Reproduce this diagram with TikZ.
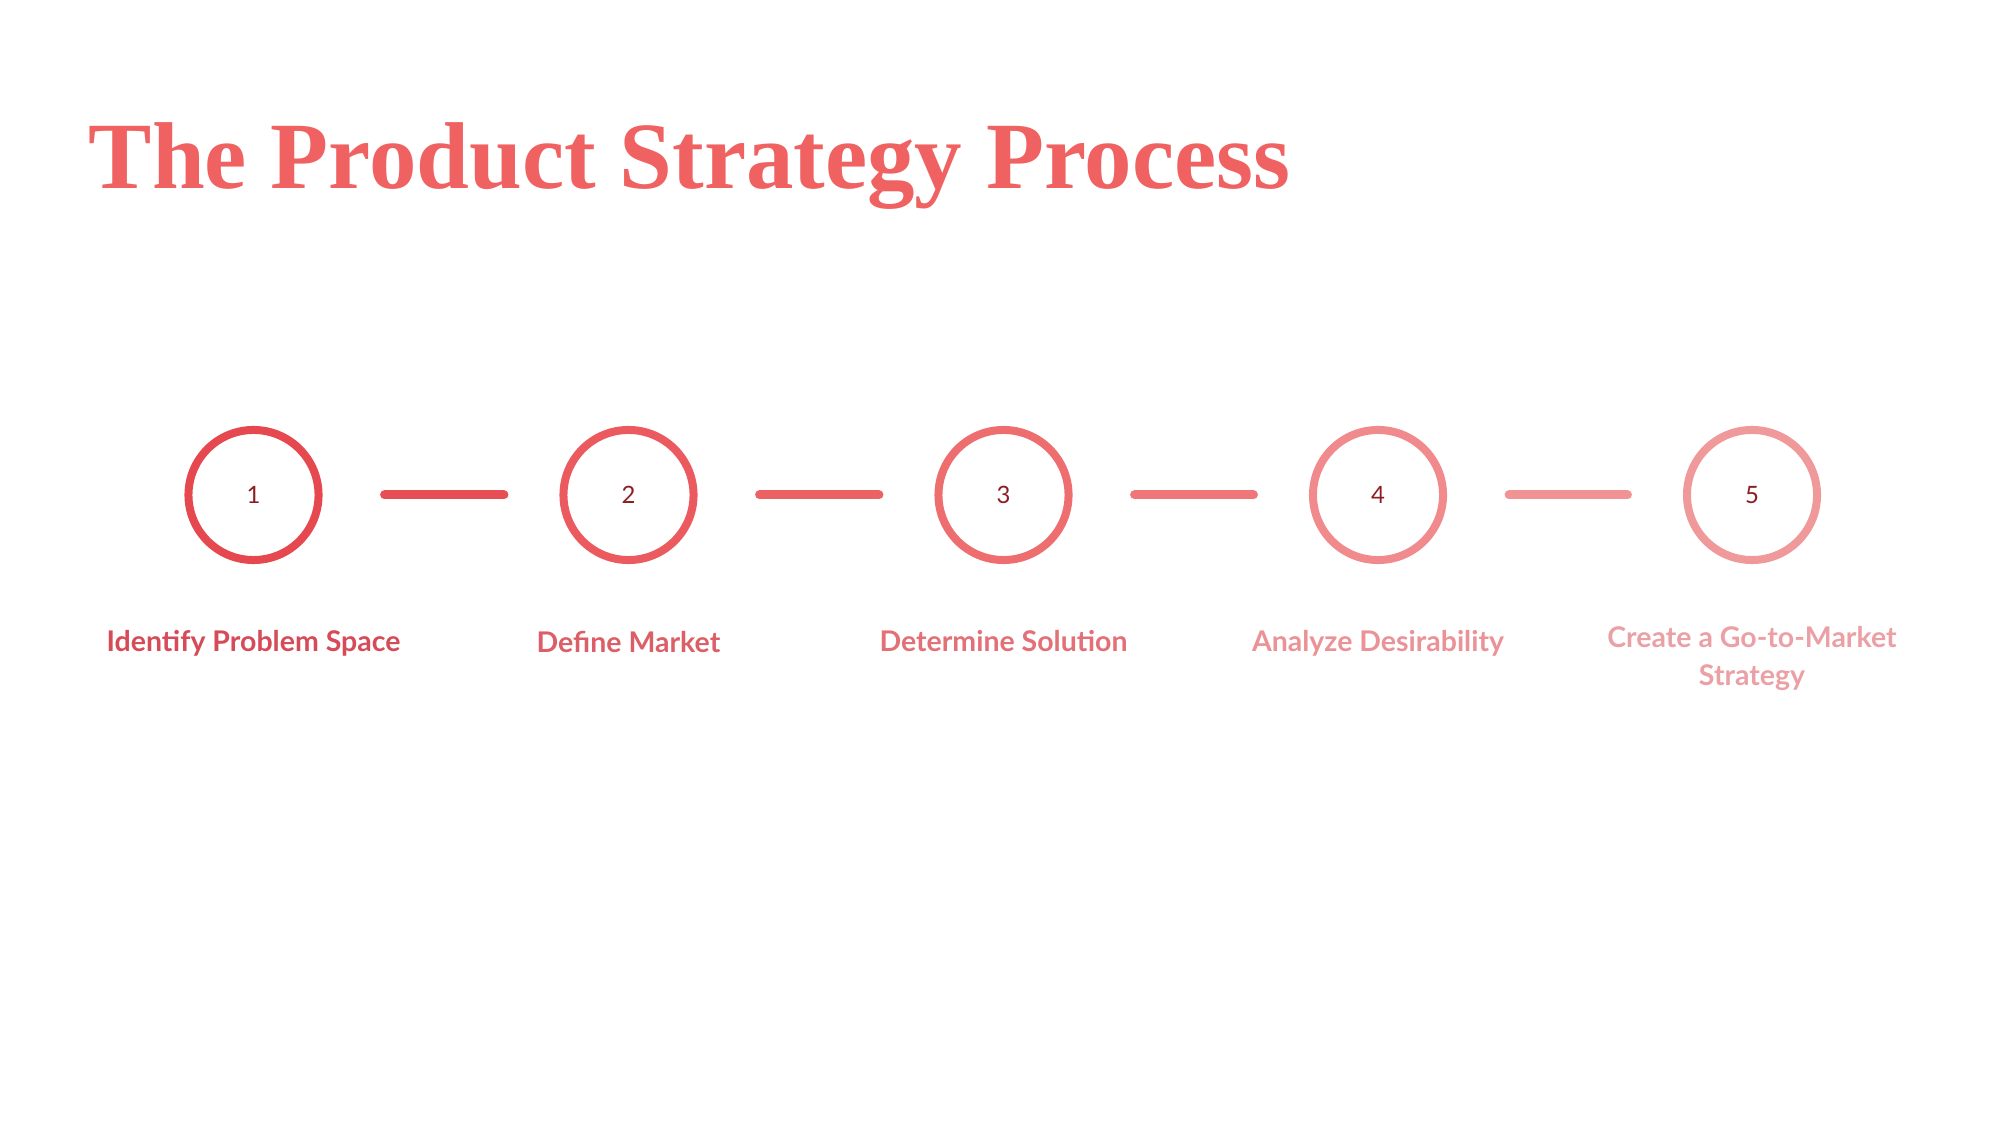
\documentclass[tikz,border=0pt]{standalone}
\usepackage{fontspec}
\setmainfont{Lato}
\newfontfamily\titlefont{Liberation Serif}
\usepackage{xcolor}
\usetikzlibrary{positioning}
\definecolor{titlered}{RGB}{240,98,98}
\definecolor{numred}{RGB}{140,30,35}
\definecolor{ringA}{RGB}{229,72,79}
\definecolor{ringB}{RGB}{235,90,94}
\definecolor{ringC}{RGB}{238,110,112}
\definecolor{ringD}{RGB}{240,138,140}
\definecolor{ringE}{RGB}{240,153,155}
\definecolor{linkA}{RGB}{232,79,85}
\definecolor{linkB}{RGB}{236,97,100}
\definecolor{linkC}{RGB}{239,119,121}
\definecolor{linkD}{RGB}{241,146,148}
\definecolor{labA}{RGB}{214,75,88}
\definecolor{labB}{RGB}{220,95,104}
\definecolor{labC}{RGB}{227,112,119}
\definecolor{labD}{RGB}{235,146,151}
\definecolor{labE}{RGB}{234,160,165}
\tikzset{
  stepcircle/.style={draw=#1, circle, line width=0.08cm, minimum size=1.30cm, inner sep=0pt, text=numred},
  steplabel/.style={text=#1, inner sep=0pt, align=center, font=\bfseries\fontsize{8.1pt}{10.8pt}\selectfont},
  steplink/.style={draw=#1, line width=0.09cm, line cap=round, shorten <=0.62cm, shorten >=0.555cm}
}

\begin{document}
\begin{tikzpicture}[x=0.01cm, y=-0.01cm, every node/.style={font=\fontsize{6.8pt}{8pt}\selectfont}]
\useasboundingbox (0,0) rectangle (2000,1125);

% Title
\node[anchor=base west, inner sep=0pt, text=titlered, font=\titlefont\bfseries\fontsize{27pt}{32pt}\selectfont] (title) at (88,189) {The Product Strategy Process};

% Step 1
\node[stepcircle=ringA] (S1) at (253.5,495) {1};
\node[steplabel=labA, below=0.66cm of S1] (L1) {Identify Problem Space};

% Step 2
\node[stepcircle=ringB] (S2) at (628.5,495) {2};
\node[steplabel=labB, below=0.66cm of S2] (L2) {Define Market};

% Step 3
\node[stepcircle=ringC] (S3) at (1003.5,495) {3};
\node[steplabel=labC, below=0.66cm of S3] (L3) {Determine Solution};

% Step 4
\node[stepcircle=ringD] (S4) at (1378,495) {4};
\node[steplabel=labD, below=0.66cm of S4] (L4) {Analyze Desirability};

% Step 5
\node[stepcircle=ringE] (S5) at (1752,495) {5};
\node[steplabel=labE, below=0.62cm of S5] (L5) {Create a Go-to-Market\\Strategy};

% Links
\draw[steplink=linkA] (S1) -- (S2);
\draw[steplink=linkB] (S2) -- (S3);
\draw[steplink=linkC] (S3) -- (S4);
\draw[steplink=linkD] (S4) -- (S5);
\end{tikzpicture}
\end{document}
